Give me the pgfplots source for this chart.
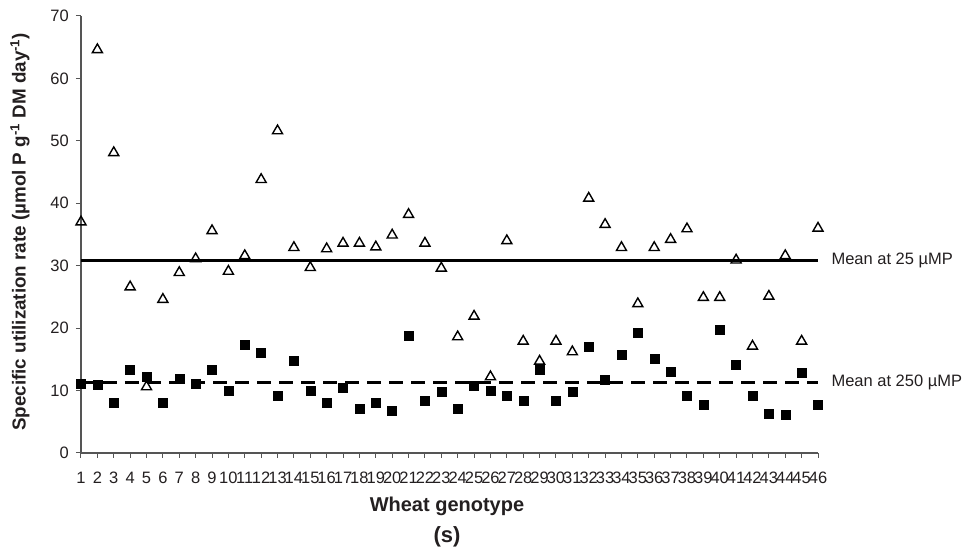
\documentclass[border=0pt]{standalone}
\usepackage{fontspec}
\setmainfont{Liberation Sans}
\usepackage{pgfplots}
\pgfplotsset{compat=1.18}
\definecolor{txt}{HTML}{231F20}
\definecolor{axl}{HTML}{555555}
\begin{document}
\begin{tikzpicture}[x=1bp,y=1bp]
\path[use as bounding box] (-81,-98) rectangle (884,453);
\begin{axis}[
  at={(0,0)}, anchor=south west,
  scale only axis, width=737bp, height=437bp,
  xmin=1, xmax=46, ymin=0, ymax=70,
  axis lines=left, axis line style={-, line width=1.2bp, color=axl},
  xtick={1,...,46}, ytick={0,10,...,70},
  tick style={line width=1bp, color=axl},
  tick align=outside, major tick length=5bp,
  tick label style={font=\fontsize{16.5bp}{18bp}\selectfont, text=txt},
  xticklabel style={inner sep=1bp, yshift=-13bp},
  yticklabel style={inner sep=1bp, xshift=-6bp},
  /pgf/number format/assume math mode=true,
  clip=false,
  xlabel={Wheat genotype},
  xlabel style={font=\bfseries\fontsize{20bp}{22bp}\selectfont, text=txt, at={(axis description cs:0.4966,-0.122)}, anchor=center},
  ylabel={Specific utilization rate (µmol P g\textsuperscript{-1} DM day\textsuperscript{-1})},
  ylabel style={font=\bfseries\fontsize{18.8bp}{20bp}\selectfont, text=txt, at={(axis description cs:-0.0828,0.506)}, anchor=center, rotate=0},
]
\addplot[black, line width=3.5bp, no marks] coordinates {(1,30.8) (46,30.8)};
\addplot[black, line width=3.5bp, no marks, dash pattern=on 14bp off 8bp] coordinates {(1,11.3) (46,11.3)};
\addplot[only marks, mark=triangle, mark size=5.8bp, mark options={solid, line width=1.4bp, draw=black}] table {
x y
1 37.0
2 64.6
3 48.1
4 26.6
5 10.6
6 24.6
7 28.9
8 31.1
9 35.6
10 29.1
11 31.6
12 43.8
13 51.6
14 32.9
15 29.7
16 32.7
17 33.6
18 33.6
19 33.0
20 34.9
21 38.2
22 33.6
23 29.6
24 18.6
25 21.9
26 12.2
27 34.0
28 17.9
29 14.7
30 17.9
31 16.2
32 40.8
33 36.6
34 32.9
35 23.9
36 32.9
37 34.2
38 35.9
39 24.9
40 24.9
41 30.9
42 17.1
43 25.1
44 31.6
45 17.9
46 36.0
};
\addplot[only marks, mark=square*, mark size=4.5bp, mark options={solid, draw=black, fill=black}] table {
x y
1 11.1
2 11.0
3 8.1
4 13.4
5 12.3
6 8.1
7 11.9
8 11.1
9 13.4
10 10.0
11 17.3
12 16.1
13 9.1
14 14.8
15 10.0
16 8.1
17 10.4
18 7.1
19 8.1
20 6.8
21 18.8
22 8.3
23 9.8
24 7.1
25 10.8
26 10.0
27 9.1
28 8.3
29 13.4
30 8.3
31 9.8
32 17.1
33 11.8
34 15.8
35 19.3
36 15.1
37 13.1
38 9.1
39 7.8
40 19.8
41 14.1
42 9.1
43 6.3
44 6.1
45 12.9
46 7.8
};
\node[anchor=west, text=txt, font=\fontsize{16.5bp}{18bp}\selectfont, xshift=10bp] at (axis cs:46,30.8) {Mean at 25 µMP};
\node[anchor=west, text=txt, font=\fontsize{16.5bp}{18bp}\selectfont, xshift=10bp] at (axis cs:46,11.3) {Mean at 250 µMP};
\node[text=txt, font=\bfseries\fontsize{22bp}{24bp}\selectfont] at (axis description cs:0.4966,-0.192) {(s)};
\end{axis}
\end{tikzpicture}
\end{document}
